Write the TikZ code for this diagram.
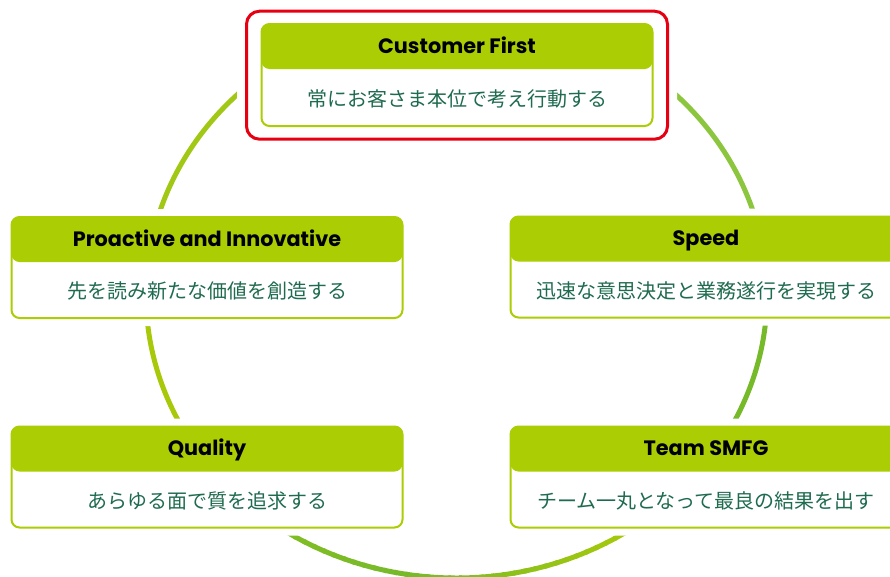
\documentclass[tikz,border=0pt]{standalone}
\usepackage{fontspec}
\newfontfamily\jpfont{Noto Sans CJK JP}
\newfontfamily\hdfont{Poppins}
\usetikzlibrary{calc}
\definecolor{hdrgreen}{RGB}{171,205,4}
\definecolor{bodygreen}{RGB}{31,107,79}
\definecolor{frameRed}{RGB}{230,0,18}
\definecolor{ringY}{RGB}{168,201,10}
\definecolor{ringG}{RGB}{118,186,42}
\definecolor{ringUR}{RGB}{140,198,62}
\definecolor{ringUL}{RGB}{162,200,22}
\begin{document}
\begin{tikzpicture}[x=1pt,y=-1pt,
  ring/.style={line width=5pt},
  pad/.style={fill=white, draw=none, rounded corners=12pt, minimum width=408pt, minimum height=117pt, inner sep=0pt},
  valbox/.style={draw=hdrgreen, line width=2pt, fill=white, rounded corners=8pt, minimum width=391pt, minimum height=101pt, inner sep=0pt,
    path picture={\fill[hdrgreen] (path picture bounding box.north west) rectangle ([yshift=-45pt]path picture bounding box.north east);}},
  hdrtext/.style={font=\hdfont\bfseries\fontsize{20.8}{24}\selectfont, text=black, inner sep=0pt, anchor=base},
  bodytext/.style={font=\jpfont\fontsize{20}{24}\selectfont, text=bodygreen, inner sep=0pt},
]
\useasboundingbox (0,0) rectangle (890,576);
\clip (0,0) rectangle (890,576);
% ring
\coordinate (C) at (456.5,295);
\begin{scope}[shift={(C)}]
  \draw[ring, ringUR] (-70:310.5 and 283) arc[start angle=-70, end angle=-2, x radius=310.5, y radius=283];
  \draw[ring, ringG] (-3:310.5 and 283) arc[start angle=-3, end angle=46, x radius=310.5, y radius=283];
  \foreach \t in {45,47,...,135}{
    \pgfmathsetmacro\q{\t<100 ? (\t-55)*2.3 : 100-(\t-100)*1.0}
    \pgfmathtruncatemacro\p{min(100,max(0,\q))}
    \draw[ring, color=ringG!\p!ringY] (\t:310.5 and 283) arc[start angle=\t, end angle=\t+2.5, x radius=310.5, y radius=283];
  }
  \draw[ring, ringY] (136:310.5 and 283) arc[start angle=136, end angle=186, x radius=310.5, y radius=283];
  \draw[ring, ringUL] (185:310.5 and 283) arc[start angle=185, end angle=250, x radius=310.5, y radius=283];
\end{scope}
% white pads
\node[pad, minimum width=440pt, minimum height=147pt] (pcf) at (457,75) {};
\node[pad] (ppro) at (207,267.5) {};
\node[pad] (pspd) at (706,267) {};
\node[pad] (pqua) at (207,477) {};
\node[pad] (pteam) at (706,477) {};
% boxes
\node[valbox, minimum height=102pt] (cf) at (457,75) {};
\node[valbox] (pro) at (207,267.5) {};
\node[valbox] (spd) at (706,267) {};
\node[valbox] (qua) at (207,477) {};
\node[valbox] (team) at (706,477) {};
% red frame
\node[draw=frameRed, line width=3pt, rounded corners=13pt, minimum width=421pt, minimum height=128pt, inner sep=0pt] (frame) at (457,75.2) {};
% texts
\node[hdrtext] (cf-h) at ([yshift=-30pt]cf.north) {Customer First};
\node[bodytext] (cf-b) at ([yshift=28pt]cf.south) {常にお客さま本位で考え行動する};
\node[hdrtext] (pro-h) at ([yshift=-30pt]pro.north) {Proactive and Innovative};
\node[bodytext] (pro-b) at ([yshift=28pt]pro.south) {先を読み新たな価値を創造する};
\node[hdrtext] (spd-h) at ([yshift=-30pt]spd.north) {Speed};
\node[bodytext] (spd-b) at ([yshift=28pt]spd.south) {迅速な意思決定と業務遂行を実現する};
\node[hdrtext] (qua-h) at ([yshift=-30pt]qua.north) {Quality};
\node[bodytext] (qua-b) at ([yshift=28pt]qua.south) {あらゆる面で質を追求する};
\node[hdrtext] (team-h) at ([yshift=-30pt]team.north) {Team SMFG};
\node[bodytext] (team-b) at ([yshift=28pt]team.south) {チーム一丸となって最良の結果を出す};
\end{tikzpicture}
\end{document}
